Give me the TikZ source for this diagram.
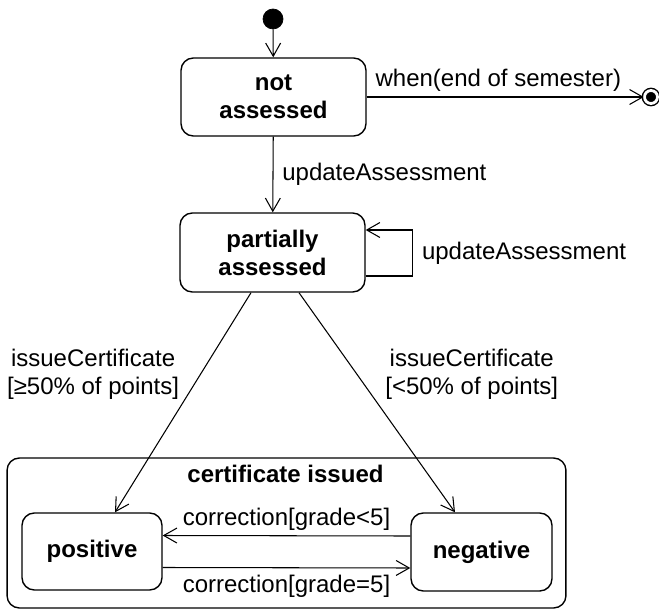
\documentclass[tikz,border=0pt]{standalone}
\usepackage{fontspec}
\setmainfont{Liberation Sans}
\usepackage{tikz}
\usetikzlibrary{arrows.meta}

\begin{document}
\begin{tikzpicture}[>={Straight Barb[length=7.5pt,width=8.5pt]}, x=0.02cm, y=-0.02cm,
	font=\fontsize{13.66}{15.9}\selectfont]
    \tikzstyle{state} = [draw, line width=0.8pt, rounded corners=7pt, align=center,
	font=\fontsize{13.66}{15.9}\selectfont\bfseries, inner sep=0pt]
    \tikzstyle{lbl} = [inner sep=1pt, align=center]
	\useasboundingbox (0,0) rectangle (659,611);
	% states
	\path
		node[draw, circle, fill=black, minimum size=0.4cm, inner sep=0pt] (I) at (273,19) {}
		node[state, minimum width=3.7cm, minimum height=1.56cm] (NA) at (273.5,97) {not\\assessed}
		node[draw, circle, fill=black, double=white, double distance=1.6pt, line width=0.8pt,
			minimum size=0.26cm, inner sep=0pt] (F) at (651,97) {}
		node[state, minimum width=3.7cm, minimum height=1.58cm] (PA) at (272.5,252.5) {partially\\assessed}
		node[state, minimum width=11.18cm, minimum height=3.0cm] (CI) at (286.5,533) {}
		node[lbl, font=\fontsize{13.66}{15.9}\selectfont\bfseries] (CIt) at (285.5,474) {certificate issued}
		node[state, minimum width=2.8cm, minimum height=1.54cm] (Pos) at (92,551.5) {positive}
		node[state, minimum width=2.82cm, minimum height=1.56cm] (Neg) at (481.5,552) {negative};
	% transitions
	\path[->, line width=0.6pt]
		(I) edge (NA)
		(NA) edge node[lbl, above=1.8pt, pos=0.475] {when(end of semester)} (F)
		(NA) edge node[lbl, right=4pt] {updateAssessment} (PA)
		([xshift=-0.43cm]PA.south) edge node[lbl, left=11pt, pos=0.37]
			{issueCertificate\\{[}≥50\% of points{]}} ([xshift=0.46cm]Pos.north)
		([xshift=0.53cm]PA.south) edge node[lbl, right=15pt, pos=0.37]
			{issueCertificate\\{[}<50\% of points{]}} ([xshift=-0.53cm]Neg.north)
		([yshift=0.32cm]Neg.west) edge node[lbl, above=1.7pt] {correction[grade<5]} ([yshift=0.32cm]Pos.east)
		([yshift=-0.32cm]Pos.west -| Pos.east) edge node[lbl, below=3pt] {correction[grade=5]} ([yshift=-0.32cm]Neg.west);
	\draw[->, line width=0.6pt] ([yshift=-0.47cm]PA.east) -- ++(47,0)
		|- node[lbl, right=4pt, pos=0.25] {updateAssessment} ([yshift=0.45cm]PA.east);
\end{tikzpicture}
\end{document}
